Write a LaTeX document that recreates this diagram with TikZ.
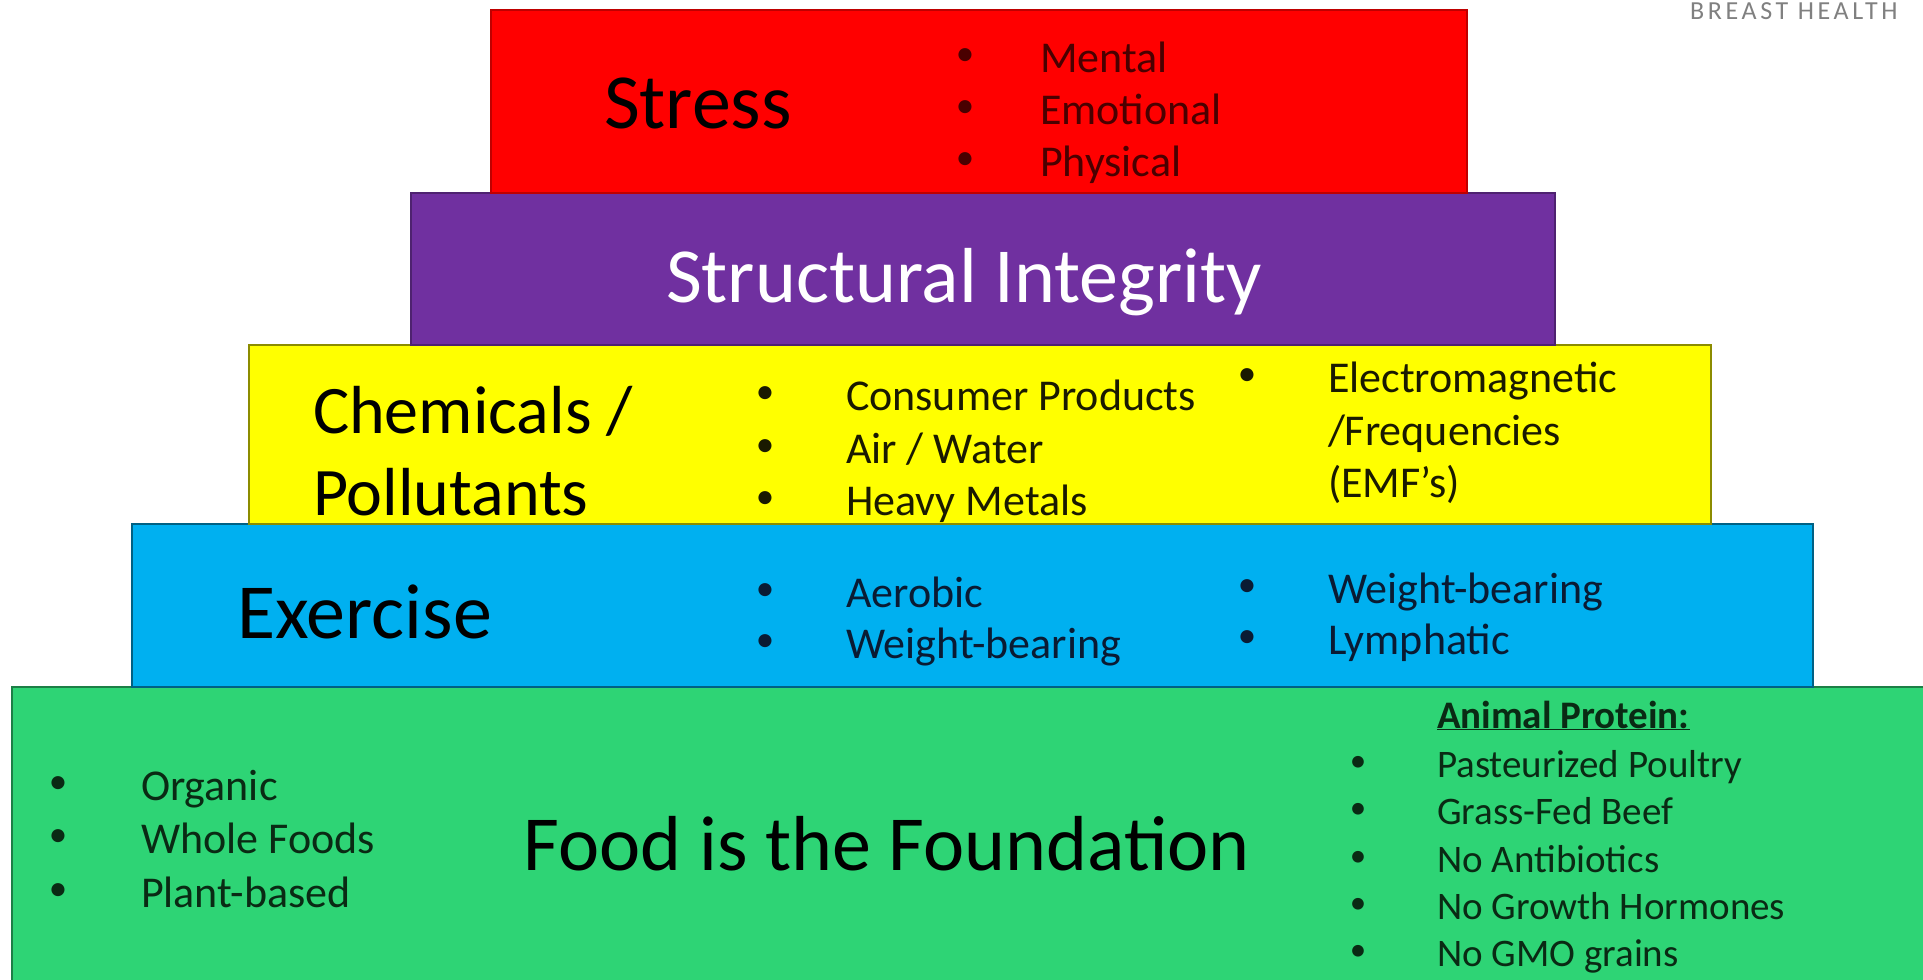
\documentclass[tikz,border=0pt]{standalone}
\usepackage{fontspec}
\setmainfont{Carlito}
\newfontfamily\brandfont[LetterSpace=14]{Carlito}

\definecolor{stressred}{HTML}{FF0000}
\definecolor{integritypurple}{HTML}{7030A0}
\definecolor{chemyellow}{HTML}{FFFF00}
\definecolor{exerciseblue}{HTML}{00B0F0}
\definecolor{foodgreen}{HTML}{2ED475}
\definecolor{redtext}{HTML}{4A0000}
\definecolor{yellowtext}{HTML}{1A1A00}
\definecolor{bluetext}{HTML}{0A1B33}
\definecolor{greentext}{HTML}{0A2A14}
\definecolor{brandgray}{HTML}{808080}

\newcommand{\layerfont}{\fontsize{78}{94}\selectfont}
\newcommand{\chemfont}{\fontsize{68}{82}\selectfont}
\newcommand{\pointfont}{\fontsize{44}{53}\selectfont}
\newcommand{\proteinfont}{\fontsize{39}{47}\selectfont}

\begin{document}
\begin{tikzpicture}[x=1pt,y=-1pt]
        \tikzstyle{every node}=[inner sep=0pt, outer sep=0pt]
        \tikzstyle{layer}=[draw, line width=2pt, rectangle]
        \tikzstyle{title}=[anchor=base west, font=\layerfont]
        \tikzstyle{point}=[anchor=base west, font=\pointfont]
        \tikzstyle{dot}=[anchor=center, yshift=15pt, font=\fontsize{37}{37}\selectfont]
        \tikzstyle{protein}=[anchor=base west, font=\proteinfont, text=greentext]
        \tikzstyle{pdot}=[anchor=center, yshift=13.5pt, font=\fontsize{33}{33}\selectfont, text=greentext]

        \useasboundingbox (0,0) rectangle (1923,980);

        % the layers, bottom first
        \node[layer, fill=foodgreen, draw=foodgreen!60!black, minimum width=1918pt, minimum height=298pt] (food) at (971,836) {};
        \node[layer, fill=exerciseblue, draw=exerciseblue!55!black, minimum width=1681pt, minimum height=163pt] (exercise) at (972.5,605.5) {};
        \node[layer, fill=chemyellow, draw=chemyellow!55!black, minimum width=1462pt, minimum height=179pt] (chem) at (980,434.5) {};
        \node[layer, fill=integritypurple, draw=integritypurple!70!black, minimum width=1144pt, minimum height=152pt] (integrity) at (983,269) {};
        \node[layer, fill=stressred, draw=stressred!75!black, minimum width=976pt, minimum height=183pt] (stress) at (979,101.5) {};

        \node[anchor=base west, text=brandgray, font=\brandfont\fontsize{26}{28}\selectfont] (brand) at (1690,19) {BREAST HEALTH};

        % stress
        \node[title] (stresstitle) at (604,128) {Stress};
        \node[dot, text=redtext] (sdot1) at (965,72) {•};
        \node[dot, text=redtext] (sdot2) at (965,124) {•};
        \node[dot, text=redtext] (sdot3) at (965,176) {•};
        \node[point, text=redtext] (mental) at (1040,72) {Mental};
        \node[point, text=redtext] (emotional) at (1040,124) {Emotional};
        \node[point, text=redtext] (physical) at (1040,176) {Physical};

        % structural integrity
        \node[anchor=base, font=\layerfont, text=white] (integritytitle) at (964,302) {Structural Integrity};

        % chemicals
        \node[anchor=base west, font=\chemfont] (chemtitle) at (313,433) {Chemicals /};
        \node[anchor=base west, font=\chemfont] (polltitle) at (313,515) {Pollutants};
        \node[dot, text=yellowtext] (cdot1) at (765,410) {•};
        \node[dot, text=yellowtext] (cdot2) at (765,463) {•};
        \node[dot, text=yellowtext] (cdot3) at (765,515) {•};
        \node[point, text=yellowtext] (consumer) at (846,410) {Consumer Products};
        \node[point, text=yellowtext] (airwater) at (846,463) {Air / Water};
        \node[point, text=yellowtext] (metals) at (846,515) {Heavy Metals};
        \node[dot, text=yellowtext] (cdot4) at (1247,392) {•};
        \node[point, text=yellowtext] (electro) at (1328,392) {Electromagnetic};
        \node[point, text=yellowtext] (freq) at (1328,445) {/Frequencies};
        \node[point, text=yellowtext] (emf) at (1328,497) {(EMF's)};

        % exercise
        \node[title] (exercisetitle) at (237,638) {Exercise};
        \node[dot, text=bluetext] (edot1) at (765,607) {•};
        \node[dot, text=bluetext] (edot2) at (765,658) {•};
        \node[point, text=bluetext] (aerobic) at (846,607) {Aerobic};
        \node[point, text=bluetext] (weightA) at (846,658) {Weight-bearing};
        \node[dot, text=bluetext] (edot3) at (1247,603) {•};
        \node[dot, text=bluetext] (edot4) at (1247,654) {•};
        \node[point, text=bluetext] (weightB) at (1328,603) {Weight-bearing};
        \node[point, text=bluetext] (lymph) at (1328,654) {Lymphatic};

        % food
        \node[dot, text=greentext] (fdot1) at (58,800) {•};
        \node[dot, text=greentext] (fdot2) at (58,853) {•};
        \node[dot, text=greentext] (fdot3) at (58,907) {•};
        \node[point, text=greentext] (organic) at (141,800) {Organic};
        \node[point, text=greentext] (whole) at (141,853) {Whole Foods};
        \node[point, text=greentext] (plant) at (141,907) {Plant-based};
        \node[anchor=base, font=\layerfont] (foodtitle) at (887,870) {Food is the Foundation};

        \node[protein] (animal) at (1437,728) {\textbf{\underline{Animal Protein:}}};
        \node[pdot] (pdot1) at (1358,777) {•};
        \node[pdot] (pdot2) at (1358,824) {•};
        \node[pdot] (pdot3) at (1358,872) {•};
        \node[pdot] (pdot4) at (1358,919) {•};
        \node[pdot] (pdot5) at (1358,966) {•};
        \node[protein] (poultry) at (1437,777) {Pasteurized Poultry};
        \node[protein] (beef) at (1437,824) {Grass-Fed Beef};
        \node[protein] (antibiotics) at (1437,872) {No Antibiotics};
        \node[protein] (hormones) at (1437,919) {No Growth Hormones};
        \node[protein] (gmo) at (1437,966) {No GMO grains};
\end{tikzpicture}
\end{document}
